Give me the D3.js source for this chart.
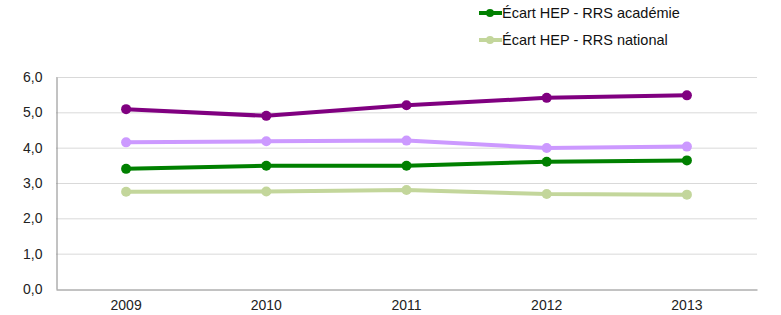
<!DOCTYPE html>
<html><head><meta charset="utf-8">
<script src="https://cdn.jsdelivr.net/npm/d3@7"></script>
<style>body{margin:0;background:#fff}svg{display:block;font-family:"Liberation Sans",Arial,sans-serif}</style>
</head><body><svg id="c" width="781" height="315"></svg>
<script>
const years = ["2009","2010","2011","2012","2013"];
const hepAcad = [5.09, 4.90, 5.20, 5.41, 5.48];
const hepNat = [4.15, 4.18, 4.20, 3.99, 4.03];
const ecartAcad = [3.40, 3.49, 3.49, 3.60, 3.64];
const ecartNat = [2.75, 2.76, 2.80, 2.69, 2.67];
const yTicks = [0,1,2,3,4,5,6];
const seriesNames = ["HEP académie","HEP national","Écart HEP - RRS académie","Écart HEP - RRS national"];
const seriesColors = ["#800080","#cc99ff","#008000","#c3d69b"];
const seriesValues = [hepAcad, hepNat, ecartAcad, ecartNat];
const legendShown = [2,3];

const svg = d3.select("#c");
const m = {l:56, r:24, t:77, b:26};
const W = 781, H = 315;
const x = d3.scaleBand().domain(years).range([m.l, W-m.r]);
const y = d3.scaleLinear().domain([0,6]).range([H-m.b, m.t]);

// gridlines
svg.append("g").selectAll("line").data(yTicks.filter(d=>d>0)).join("line")
  .attr("x1", m.l).attr("x2", W-m.r)
  .attr("y1", d=>y(d)+0.5).attr("y2", d=>y(d)+0.5)
  .attr("stroke","#d9d9d9").attr("stroke-width",1);

// y axis
const ya = svg.append("g").attr("transform",`translate(${m.l+0.5},0)`)
  .call(d3.axisLeft(y).tickValues(yTicks).tickSize(0).tickPadding(14)
    .tickFormat(d=>d3.format(".1f")(d).replace(".",",")));
ya.select(".domain").attr("stroke","#868686");
ya.selectAll("text").attr("font-size",14).attr("fill","#222").attr("font-family","Liberation Sans, Arial, sans-serif");

// x axis
const xa = svg.append("g").attr("transform",`translate(0,${y(0)+0.5})`)
  .call(d3.axisBottom(x).tickSize(0).tickPadding(11));
xa.select(".domain").attr("stroke","#868686");
xa.selectAll("text").attr("font-size",14).attr("fill","#222").attr("font-family","Liberation Sans, Arial, sans-serif");

const line = d3.line().x((d,i)=>x(years[i])+x.bandwidth()/2).y(d=>y(d));
seriesValues.forEach((vals,k)=>{
  const g = svg.append("g");
  g.append("path").datum(vals).attr("d",line).attr("fill","none")
    .attr("stroke",seriesColors[k]).attr("stroke-width",4).attr("stroke-linejoin","round");
  g.selectAll("circle").data(vals).join("circle")
    .attr("cx",(d,i)=>x(years[i])+x.bandwidth()/2).attr("cy",d=>y(d)).attr("r",5)
    .attr("fill",seriesColors[k]);
});

// legend
const lg = svg.append("g");
legendShown.forEach((k,j)=>{
  const yy = 13 + j*27;
  lg.append("line").attr("x1",479).attr("x2",502).attr("y1",yy).attr("y2",yy)
    .attr("stroke",seriesColors[k]).attr("stroke-width",4);
  lg.append("circle").attr("cx",490).attr("cy",yy).attr("r",4).attr("fill",seriesColors[k]);
  lg.append("text").attr("x",502).attr("y",yy+5).attr("font-size",14.5).attr("fill","#111")
    .text(seriesNames[k]);
});
</script></body></html>
